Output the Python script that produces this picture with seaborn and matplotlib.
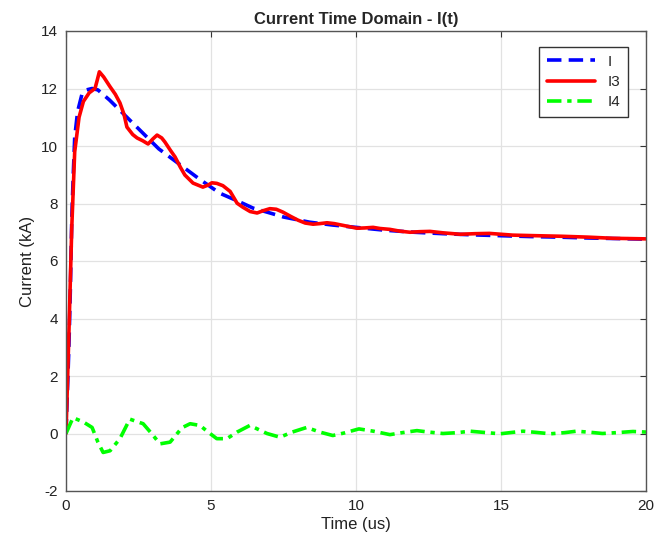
import matplotlib
matplotlib.use("Agg")
import matplotlib.pyplot as plt
import seaborn as sns
import pandas as pd

# Data
t_I = [0, 0.1, 0.15, 0.2, 0.25, 0.3, 0.4, 0.55, 0.7, 0.9, 1.1, 1.5, 1.9, 2.5, 3.2, 4.0, 4.6, 5.3,
       6.0, 6.45, 7.0, 7.5, 8.4, 9.2, 9.9, 11, 12, 13, 14, 15, 16, 17, 18, 19, 20]
I = [0, 3.0, 5.0, 7.5, 9.0, 10.3, 11.2, 11.8, 11.95, 12.0, 11.95, 11.6, 11.2, 10.6, 9.9, 9.3, 8.85, 8.36,
     8.05, 7.84, 7.68, 7.53, 7.35, 7.25, 7.18, 7.07, 7.0, 6.95, 6.91, 6.88, 6.85, 6.83, 6.8, 6.78, 6.76]

t_I3 = [0, 0.1, 0.2, 0.3, 0.45, 0.6, 0.8, 1.0, 1.08, 1.15, 1.3, 1.52, 1.7, 1.86, 2.0, 2.1, 2.3, 2.45,
        2.65, 2.83, 3.0, 3.14, 3.3, 3.41, 3.6, 3.76, 3.95, 4.1, 4.38, 4.72, 4.9, 5.03, 5.2, 5.41, 5.66,
        5.9, 6.1, 6.35, 6.59, 6.8, 7.03, 7.25, 7.48, 7.75, 8.0, 8.25, 8.52, 8.75, 9.0, 9.25, 9.55, 10.03,
        10.3, 10.59, 10.83, 11.17, 11.5, 11.86, 12.2, 12.55, 13.0, 13.59, 14.1, 14.6, 15.0, 15.4, 16.2,
        17.1, 18.0, 18.86, 20]
I3 = [0, 3.5, 7.2, 9.8, 11.0, 11.55, 11.85, 12.0, 12.3, 12.58, 12.4, 12.06, 11.8, 11.5, 11.1, 10.66,
      10.4, 10.28, 10.18, 10.07, 10.25, 10.38, 10.28, 10.14, 9.85, 9.62, 9.25, 8.99, 8.71, 8.57, 8.64,
      8.72, 8.7, 8.62, 8.42, 8.01, 7.87, 7.72, 7.67, 7.75, 7.82, 7.8, 7.7, 7.55, 7.42, 7.32, 7.28, 7.3,
      7.33, 7.3, 7.24, 7.14, 7.15, 7.17, 7.13, 7.1, 7.04, 7.0, 7.02, 7.03, 6.98, 6.93, 6.95, 6.96, 6.93,
      6.9, 6.88, 6.86, 6.83, 6.79, 6.77]

t_I4 = [0, 0.24, 0.6, 0.9, 1.1, 1.28, 1.52, 1.86, 2.2, 2.66, 2.95, 3.24, 3.59, 4.0, 4.28, 4.62, 4.9,
        5.2, 5.55, 5.9, 6.34, 6.93, 7.38, 7.8, 8.3, 8.75, 9.2, 9.6, 10.1, 10.6, 11.17, 11.6, 12.1, 12.5,
        13.0, 13.5, 13.93, 14.5, 14.97, 15.4, 15.76, 16.2, 16.7, 17.2, 17.6, 18.1, 18.5, 19.0, 19.55, 20]
I4 = [0, 0.55, 0.4, 0.21, -0.3, -0.66, -0.6, -0.18, 0.5, 0.34, 0.0, -0.36, -0.3, 0.2, 0.34, 0.28, 0.05,
      -0.18, -0.18, 0.05, 0.28, 0.0, -0.13, 0.05, 0.21, 0.05, -0.07, 0.02, 0.16, 0.08, -0.04, 0.03, 0.1,
      0.05, 0.0, 0.03, 0.08, 0.03, -0.01, 0.04, 0.08, 0.04, -0.01, 0.03, 0.08, 0.04, 0.0, 0.03, 0.07, 0.05]

x_ticks = [0, 5, 10, 15, 20]
y_ticks = [-2, 0, 2, 4, 6, 8, 10, 12, 14]

sns.set_style("whitegrid")
plt.rcParams['font.family'] = ['Liberation Sans', 'DejaVu Sans']
plt.rcParams['axes.unicode_minus'] = False

fig = plt.figure(figsize=(6.66, 5.44), dpi=100)
ax = fig.add_axes([66/666, 1-491/544, 580/666, 460/544])

sns.lineplot(x=t_I, y=I, ax=ax, color=(0, 0, 1), linestyle=(0, (4, 2)), linewidth=2.6,
             label="I", sort=False, estimator=None)
sns.lineplot(x=t_I3, y=I3, ax=ax, color=(1, 0, 0), linestyle="-", linewidth=2.6,
             label="I3", sort=False, estimator=None)
sns.lineplot(x=t_I4, y=I4, ax=ax, color=(0, 1, 0), linestyle=(0, (4, 1.6, 1.2, 1.6)), linewidth=2.6,
             label="I4", sort=False, estimator=None)

ax.set_xlim(0, 20)
ax.set_ylim(-2, 14)
ax.set_xticks(x_ticks)
ax.set_yticks(y_ticks)
ax.grid(True, color="#e2e2e2", linewidth=0.9)
for s in ax.spines.values():
    s.set_visible(True)
    s.set_color("#555555")
    s.set_linewidth(1.0)
ax.tick_params(direction="in", length=4, top=True, right=True, labelsize=11, pad=6,
               colors="#333333", labelcolor="#222222")
ax.set_xlabel("Time (us)", fontsize=12, color="#222222", labelpad=3)
ax.set_ylabel("Current (kA)", fontsize=12, color="#222222")
ax.set_title("Current Time Domain - I(t)", fontsize=12, fontweight="bold", pad=5)

leg = ax.legend(loc="upper right", fontsize=11, frameon=True, fancybox=False,
                edgecolor="#333333", framealpha=1, handlelength=3.2, borderpad=0.5,
                labelspacing=0.4, borderaxespad=0, bbox_to_anchor=(0.969, 0.965))
leg.get_frame().set_linewidth(1.0)

fig.savefig("out.png", dpi=100)
